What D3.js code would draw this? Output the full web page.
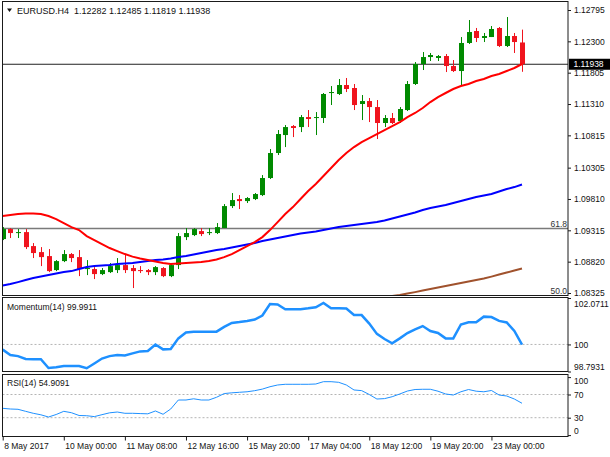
<!DOCTYPE html>
<html>
<head>
<meta charset="utf-8">
<script src="https://cdn.jsdelivr.net/npm/d3@7/dist/d3.min.js"></script>
<style>
  body { margin: 0; background: #fff; }
  svg text { font-family: 'Liberation Sans', Arial, sans-serif; }
</style>
</head>
<body>
<div id="wrapper"></div>
<script>
// Data
const opens = [1.09177, 1.09335, 1.09272, 1.09287, 1.09066, 1.08971, 1.08908, 1.08687, 1.08829, 1.08940,
  1.08892, 1.08703, 1.08703, 1.08624, 1.08655, 1.08687, 1.08766, 1.08719, 1.08687, 1.08687,
  1.08655, 1.08719, 1.08592, 1.08766, 1.09208, 1.09240, 1.09303, 1.09272, 1.09272, 1.09351,
  1.09698, 1.09809, 1.09777, 1.09809, 1.09872, 1.10141, 1.10536, 1.10820, 1.10962, 1.10946,
  1.11104, 1.11089, 1.11089, 1.11484, 1.11468, 1.11610, 1.11563, 1.11310, 1.11357, 1.11262,
  1.11010, 1.11089, 1.11041, 1.11215, 1.11626, 1.11942, 1.12052, 1.12037, 1.12068, 1.11910,
  1.11831, 1.12274, 1.12463, 1.12353, 1.12368, 1.12511, 1.12226, 1.12384, 1.12282];
const highs = [1.09366, 1.09351, 1.09335, 1.09335, 1.09114, 1.09050, 1.09019, 1.08845, 1.09003, 1.08956,
  1.09003, 1.08845, 1.08734, 1.08719, 1.08798, 1.08877, 1.08940, 1.08766, 1.08750, 1.08703,
  1.08750, 1.08734, 1.08798, 1.09272, 1.09351, 1.09351, 1.09351, 1.09351, 1.09430, 1.09730,
  1.09904, 1.09872, 1.09840, 1.09904, 1.10188, 1.10599, 1.10899, 1.10978, 1.10978, 1.11136,
  1.11215, 1.11183, 1.11484, 1.11594, 1.11705, 1.11721, 1.11626, 1.11452, 1.11405, 1.11373,
  1.11136, 1.11168, 1.11262, 1.11673, 1.11973, 1.12131, 1.12116, 1.12084, 1.12100, 1.12005,
  1.12368, 1.12637, 1.12511, 1.12432, 1.12542, 1.12526, 1.12684, 1.12432, 1.12485];
const lows = [1.09161, 1.09193, 1.09193, 1.09019, 1.08877, 1.08750, 1.08655, 1.08671, 1.08813, 1.08813,
  1.08592, 1.08608, 1.08545, 1.08608, 1.08640, 1.08640, 1.08640, 1.08403, 1.08640, 1.08608,
  1.08608, 1.08576, 1.08576, 1.08703, 1.09161, 1.09224, 1.09224, 1.09240, 1.09256, 1.09351,
  1.09667, 1.09651, 1.09746, 1.09793, 1.09856, 1.10125, 1.10504, 1.10630, 1.10788, 1.10867,
  1.10946, 1.10820, 1.11010, 1.11294, 1.11452, 1.11499, 1.11215, 1.11057, 1.11025, 1.10757,
  1.10946, 1.10994, 1.11010, 1.11199, 1.11610, 1.11847, 1.11989, 1.11989, 1.11815, 1.11815,
  1.11610, 1.12258, 1.12289, 1.12289, 1.12368, 1.12210, 1.12210, 1.12116, 1.11819];
const closes = [1.09335, 1.09272, 1.09287, 1.09050, 1.08956, 1.08892, 1.08671, 1.08829, 1.08940, 1.08877,
  1.08703, 1.08719, 1.08624, 1.08687, 1.08750, 1.08766, 1.08687, 1.08671, 1.08671, 1.08655,
  1.08734, 1.08592, 1.08766, 1.09224, 1.09272, 1.09335, 1.09256, 1.09287, 1.09366, 1.09698,
  1.09793, 1.09777, 1.09825, 1.09888, 1.10141, 1.10536, 1.10836, 1.10946, 1.10931, 1.11104,
  1.11073, 1.11104, 1.11468, 1.11499, 1.11610, 1.11547, 1.11294, 1.11357, 1.11262, 1.11010,
  1.11089, 1.11010, 1.11231, 1.11626, 1.11942, 1.12052, 1.12084, 1.12068, 1.11910, 1.11831,
  1.12274, 1.12447, 1.12353, 1.12384, 1.12495, 1.12226, 1.12384, 1.12289, 1.11938];

// moving averages (red, blue, brown)
const maRed = [1.09540, 1.09556, 1.09572, 1.09580, 1.09580, 1.09572, 1.09540, 1.09493, 1.09430, 1.09366,
  1.09319, 1.09224, 1.09161, 1.09098, 1.09035, 1.08987, 1.08940, 1.08900, 1.08869, 1.08845,
  1.08821, 1.08798, 1.08782, 1.08790, 1.08798, 1.08806, 1.08813, 1.08829, 1.08853, 1.08892,
  1.08940, 1.09003, 1.09066, 1.09129, 1.09208, 1.09319, 1.09445, 1.09572, 1.09682, 1.09809,
  1.09935, 1.10046, 1.10172, 1.10299, 1.10425, 1.10536, 1.10630, 1.10709, 1.10773, 1.10836,
  1.10899, 1.10962, 1.11025, 1.11104, 1.11168, 1.11247, 1.11341, 1.11420, 1.11484, 1.11547,
  1.11594, 1.11626, 1.11673, 1.11705, 1.11752, 1.11784, 1.11831, 1.11879, 1.11942];
const maBlue = [1.08442, 1.08466, 1.08497, 1.08529, 1.08561, 1.08584, 1.08608, 1.08632, 1.08655, 1.08671,
  1.08703, 1.08734, 1.08750, 1.08758, 1.08766, 1.08782, 1.08790, 1.08798, 1.08813, 1.08829,
  1.08845, 1.08853, 1.08869, 1.08892, 1.08908, 1.08932, 1.08956, 1.08979, 1.09003, 1.09019,
  1.09043, 1.09066, 1.09090, 1.09114, 1.09145, 1.09169, 1.09193, 1.09216, 1.09240, 1.09264,
  1.09280, 1.09295, 1.09319, 1.09343, 1.09366, 1.09382, 1.09398, 1.09414, 1.09430, 1.09445,
  1.09469, 1.09501, 1.09532, 1.09564, 1.09596, 1.09635, 1.09667, 1.09690, 1.09714, 1.09746,
  1.09777, 1.09809, 1.09840, 1.09864, 1.09888, 1.09927, 1.09967, 1.09998, 1.10038];
const maBrownStart = 50;
const maBrown = [1.08253, 1.08276, 1.08292, 1.08316, 1.08339, 1.08363, 1.08387, 1.08411, 1.08434, 1.08458,
  1.08482, 1.08505, 1.08529, 1.08553, 1.08584, 1.08616, 1.08648, 1.08679, 1.08711];

const momentum = [99.77, 99.53, 99.48, 99.35, 99.34, 99.34, 98.95, 98.98, 99.04, 99.04,
  99.04, 98.94, 99.15, 99.37, 99.48, 99.53, 99.51, 99.60, 99.69, 99.71,
  100.00, 99.78, 99.80, 100.27, 100.53, 100.57, 100.57, 100.57, 100.57, 100.78,
  100.96, 101.00, 101.05, 101.11, 101.29, 101.80, 101.78, 101.57, 101.57, 101.57,
  101.61, 101.66, 101.85, 101.61, 101.61, 101.60, 101.31, 101.31, 100.93, 100.47,
  100.24, 100.05, 100.27, 100.51, 100.67, 100.82, 100.60, 100.51, 100.27, 100.27,
  100.89, 100.99, 100.99, 101.24, 101.22, 101.05, 100.98, 100.60, 99.99];
const rsi = [46.2, 45.0, 44.5, 41.0, 37.6, 35.0, 31.2, 35.5, 41.0, 38.6,
  33.8, 33.4, 31.9, 35.2, 38.4, 39.8, 37.6, 37.6, 37.1, 36.7,
  41.6, 35.9, 45.0, 60.5, 60.5, 62.6, 60.5, 60.5, 65.2, 71.6,
  72.9, 73.8, 74.7, 76.6, 79.3, 83.4, 86.4, 87.6, 87.6, 87.6,
  87.6, 88.1, 92.1, 92.1, 91.0, 86.4, 77.8, 76.7, 70.0, 62.2,
  62.9, 66.2, 70.9, 76.0, 78.6, 79.0, 79.0, 75.7, 70.9, 69.1,
  74.7, 78.6, 75.7, 74.7, 76.9, 69.1, 67.4, 62.2, 54.9];

const priceTicks = [1.12795, 1.12300, 1.11805, 1.11310, 1.10815, 1.10305, 1.09810, 1.09315, 1.08820, 1.08325];
const lastPrice = 1.11938;
const fibLevels = [1.09343, 1.08280];
const fibLabels = ['61.8', '50.0'];
const momentumTicks = [98.7931, 100, 102.0711];
const momentumLevel = 100;
const rsiTicks = [0, 30, 70, 100];
const rsiLevels = [30, 70];
const timeTickBars = [0, 8, 16, 24, 32, 40, 48, 56, 64];
const timeLabels = ['8 May 2017', '10 May 00:00', '11 May 08:00', '12 May 16:00', '15 May 20:00',
  '17 May 04:00', '18 May 12:00', '19 May 20:00', '23 May 00:00'];
const title = 'EURUSD.H4  1.12282 1.12485 1.11819 1.11938';
const momentumTitle = 'Momentum(14) 99.9911';
const rsiTitle = 'RSI(14) 54.9091';

const bars = opens.map((o, i) => ({
  i, open: o, high: highs[i], low: lows[i], close: closes[i],
}));

// Dimensions
const dimensions = {
  width: 610,
  height: 457,
  left: 2.5,
  right: 568,
  main: { top: 1.5, bottom: 295.5 },
  mom: { top: 297.5, bottom: 371.5 },
  rsi: { top: 374.5, bottom: 436.5 },
};
const fontSize = 8.5;

// Scales
const xScale = d3.scaleLinear().domain([0, 68]).range([2.7, 522]);
const yPrice = d3.scaleLinear().domain([1.08325, 1.12795]).range([293, 10]);
const yMom = d3.scaleLinear().domain([98.7931, 102.0711]).range([371.5, 298]);
const yRsi = d3.scaleLinear().domain([0, 100]).range([435.1, 377.1]);

const svg = d3.select('#wrapper')
  .append('svg')
  .attr('width', dimensions.width)
  .attr('height', dimensions.height)
  .style('display', 'block');

const defs = svg.append('defs');
['main', 'mom', 'rsi'].forEach((k) => {
  defs.append('clipPath').attr('id', `clip-${k}`)
    .append('rect')
    .attr('x', dimensions.left)
    .attr('y', dimensions[k].top)
    .attr('width', dimensions.right - dimensions.left)
    .attr('height', dimensions[k].bottom - dimensions[k].top);
});

// Main panel
const main = svg.append('g').attr('clip-path', 'url(#clip-main)');

// fibonacci lines
main.selectAll('.fib')
  .data(fibLevels)
  .join('line')
  .attr('x1', dimensions.left)
  .attr('x2', dimensions.right)
  .attr('y1', (d) => yPrice(d))
  .attr('y2', (d) => yPrice(d))
  .attr('stroke', '#7a7a7a')
  .attr('stroke-width', 1.6);

// price line
main.append('line')
  .attr('x1', dimensions.left)
  .attr('x2', dimensions.right)
  .attr('y1', yPrice(lastPrice))
  .attr('y2', yPrice(lastPrice))
  .attr('stroke', '#222')
  .attr('stroke-width', 1);

const lineGen = (yS) => d3.line().x((d) => xScale(d.i)).y((d) => yS(d.v));

const maSeries = [
  { values: maBrown.map((v, k) => ({ i: k + maBrownStart, v })), color: '#a0522d' },
  { values: maBlue.map((v, i) => ({ i, v })), color: '#0000ff' },
  { values: maRed.map((v, i) => ({ i, v })), color: '#ff0000' },
];

// candles
const bullColor = '#008a00';
const bearColor = '#f0141e';
const candles = main.selectAll('.candle')
  .data(bars)
  .join('g')
  .attr('class', 'candle');

candles.append('line')
  .attr('x1', (d) => Math.round(xScale(d.i)) + 0.5)
  .attr('x2', (d) => Math.round(xScale(d.i)) + 0.5)
  .attr('y1', (d) => yPrice(d.high))
  .attr('y2', (d) => yPrice(d.low))
  .attr('stroke', (d) => (d.close >= d.open ? bullColor : bearColor))
  .attr('stroke-width', 1);

candles.append('rect')
  .attr('x', (d) => Math.round(xScale(d.i)) - 2)
  .attr('width', 5)
  .attr('y', (d) => yPrice(Math.max(d.open, d.close)))
  .attr('height', (d) => Math.max(1, Math.abs(yPrice(d.open) - yPrice(d.close))))
  .attr('fill', (d) => (d.close >= d.open ? bullColor : bearColor));

main.selectAll('.ma')
  .data(maSeries)
  .join('path')
  .attr('d', (d) => lineGen(yPrice)(d.values))
  .attr('fill', 'none')
  .attr('stroke', (d) => d.color)
  .attr('stroke-width', 2);

// Momentum panel
const mom = svg.append('g').attr('clip-path', 'url(#clip-mom)');
mom.append('line')
  .attr('x1', dimensions.left)
  .attr('x2', dimensions.right)
  .attr('y1', yMom(momentumLevel))
  .attr('y2', yMom(momentumLevel))
  .attr('stroke', '#b4b4b4')
  .attr('stroke-dasharray', '2,2');
mom.append('path')
  .attr('d', lineGen(yMom)(momentum.map((v, i) => ({ i, v }))))
  .attr('fill', 'none')
  .attr('stroke', '#1e90ff')
  .attr('stroke-width', 2.5);

// RSI panel
const rsiG = svg.append('g').attr('clip-path', 'url(#clip-rsi)');
rsiG.selectAll('.lvl')
  .data(rsiLevels)
  .join('line')
  .attr('x1', dimensions.left)
  .attr('x2', dimensions.right)
  .attr('y1', (d) => yRsi(d))
  .attr('y2', (d) => yRsi(d))
  .attr('stroke', '#b4b4b4')
  .attr('stroke-dasharray', '2,2');
rsiG.append('path')
  .attr('d', lineGen(yRsi)(rsi.map((v, i) => ({ i, v }))))
  .attr('fill', 'none')
  .attr('stroke', '#1e90ff')
  .attr('stroke-width', 1);

// Panel borders
['main', 'mom', 'rsi'].forEach((k) => {
  svg.append('rect')
    .attr('x', dimensions.left)
    .attr('y', dimensions[k].top)
    .attr('width', dimensions.right - dimensions.left)
    .attr('height', dimensions[k].bottom - dimensions[k].top)
    .attr('fill', 'none')
    .attr('stroke', '#1a1a1a')
    .attr('stroke-width', 1);
});

// Axes
const styleAxis = (g) => {
  g.select('.domain').remove();
  g.selectAll('.tick line').attr('stroke', '#1a1a1a');
  g.selectAll('.tick text')
    .attr('fill', '#111')
    .style('font-size', `${fontSize}px`)
    .style('font-family', "'Liberation Sans', Arial, sans-serif");
};

svg.append('g')
  .attr('transform', `translate(${dimensions.right}, 0)`)
  .call(d3.axisRight(yPrice).tickValues(priceTicks).tickFormat(d3.format('.5f')).tickSize(3).tickPadding(3))
  .call(styleAxis);

svg.append('g')
  .attr('transform', `translate(${dimensions.right}, 0)`)
  .call(d3.axisRight(yMom).tickValues(momentumTicks)
    .tickFormat((d) => (d === 100 ? '100' : d3.format('.4f')(d))).tickSize(3).tickPadding(3))
  .call(styleAxis)
  .call((g) => g.selectAll('.tick text')
    .attr('dy', (d) => (d === 102.0711 ? '1em' : d === 98.7931 ? '-0.25em' : '0.32em')));

svg.append('g')
  .attr('transform', `translate(${dimensions.right}, 0)`)
  .call(d3.axisRight(yRsi).tickValues(rsiTicks).tickSize(3).tickPadding(3))
  .call(styleAxis)
  .call((g) => g.selectAll('.tick text')
    .attr('dy', (d) => (d === 100 ? '0.75em' : d === 0 ? '-0.2em' : '0.32em')));

const xAxis = svg.append('g')
  .attr('transform', `translate(0, ${dimensions.rsi.bottom})`)
  .call(d3.axisBottom(xScale).tickValues(timeTickBars)
    .tickFormat((d, i) => timeLabels[i]).tickSize(4).tickPadding(2))
  .call(styleAxis);
xAxis.selectAll('.tick text').attr('text-anchor', 'start').attr('dx', 1);

// last price box
svg.append('rect')
  .attr('x', dimensions.right + 1)
  .attr('y', yPrice(lastPrice) - 5.5)
  .attr('width', 41)
  .attr('height', 11)
  .attr('fill', '#000');
svg.append('text')
  .attr('x', dimensions.right + 5.5)
  .attr('y', yPrice(lastPrice))
  .attr('dy', '0.34em')
  .attr('fill', '#fff')
  .style('font-size', `${fontSize}px`)
  .text(d3.format('.5f')(lastPrice));

// fib labels
svg.selectAll('.fibLabel')
  .data(fibLevels)
  .join('text')
  .attr('x', dimensions.right - 1)
  .attr('y', (d) => yPrice(d) - 2)
  .attr('text-anchor', 'end')
  .attr('fill', '#333')
  .style('font-size', `${fontSize}px`)
  .text((d, i) => fibLabels[i]);

// Titles
svg.append('path')
  .attr('d', 'M7,8.5 L12,8.5 L9.5,12 Z')
  .attr('fill', '#111');
svg.append('text')
  .attr('x', 17)
  .attr('y', 13.5)
  .attr('fill', '#111')
  .style('font-size', '9px')
  .style('white-space', 'pre')
  .text(title);
svg.append('text')
  .attr('x', 7)
  .attr('y', 309.5)
  .attr('fill', '#111')
  .style('font-size', `${fontSize}px`)
  .text(momentumTitle);
svg.append('text')
  .attr('x', 7)
  .attr('y', 386)
  .attr('fill', '#111')
  .style('font-size', `${fontSize}px`)
  .text(rsiTitle);
</script>
</body>
</html>
